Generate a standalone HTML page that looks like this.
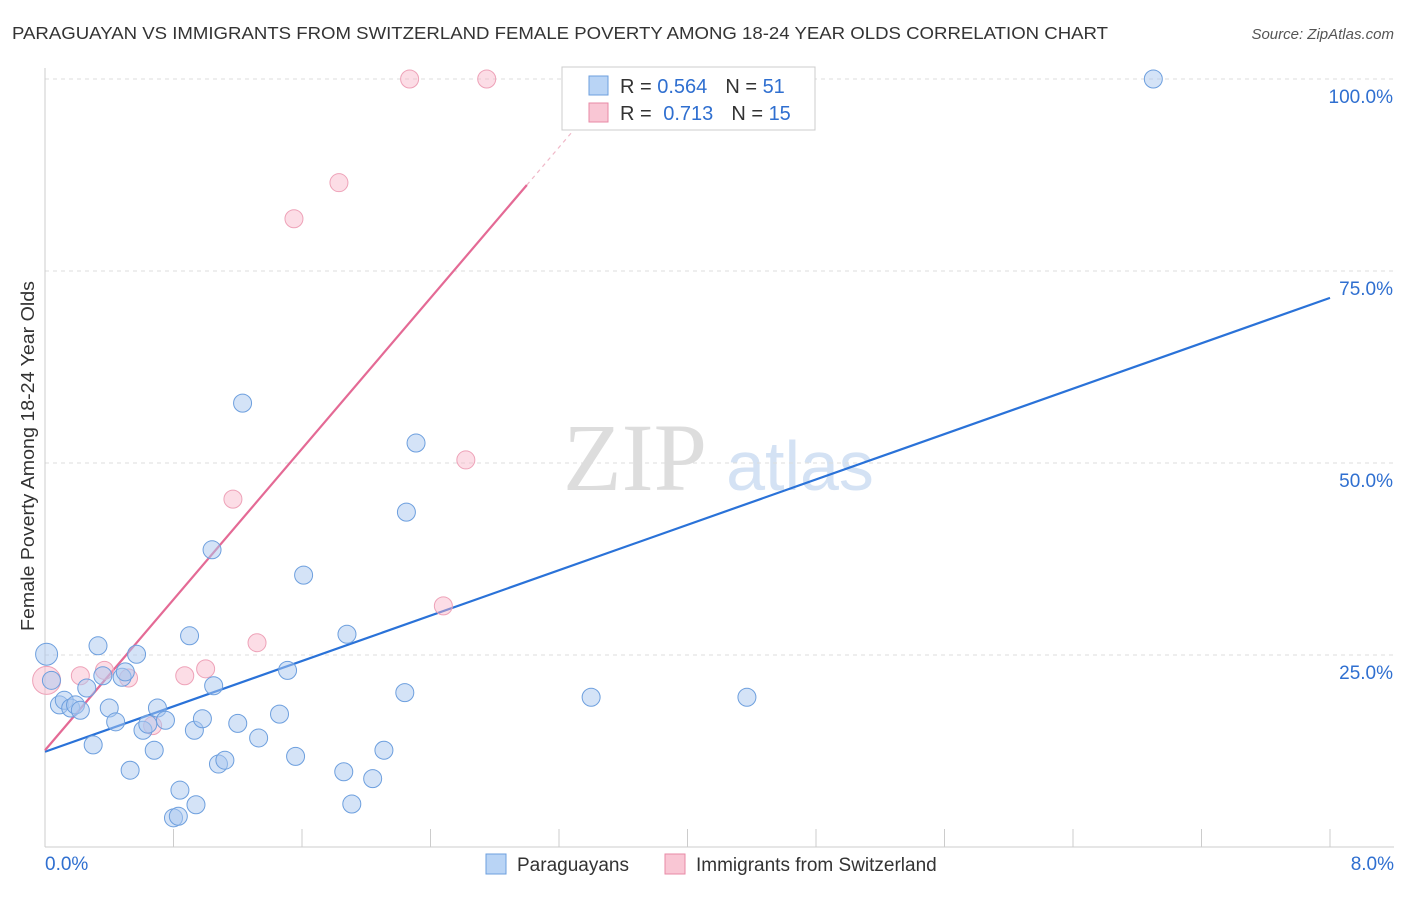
<!DOCTYPE html>
<html><head><meta charset="utf-8"><style>
body{margin:0;background:#fff;font-family:"Liberation Sans",sans-serif}
</style></head><body>
<svg width="1406" height="892" viewBox="0 0 1406 892" xmlns="http://www.w3.org/2000/svg">
<text x="12" y="39" font-size="17.5" fill="#333" textLength="1096" lengthAdjust="spacingAndGlyphs">PARAGUAYAN VS IMMIGRANTS FROM SWITZERLAND FEMALE POVERTY AMONG 18-24 YEAR OLDS CORRELATION CHART</text>
<text x="1394" y="39" font-size="15" fill="#555" font-style="italic" text-anchor="end">Source: ZipAtlas.com</text>
<g>
<text x="635" y="490" font-size="96" fill="#ddd" font-family="Liberation Serif" text-anchor="middle">ZIP</text>
<text x="800" y="490" font-size="70" fill="#d4e2f4" text-anchor="middle">atlas</text>
</g>
<g id="grid"></g>
<g id="axes"></g>
<g id="lines"></g>
<g id="points"></g>
<text transform="translate(34,456) rotate(-90)" font-size="18.5" fill="#333" text-anchor="middle" textLength="350" lengthAdjust="spacingAndGlyphs">Female Poverty Among 18-24 Year Olds</text>
<g>
<rect x="562" y="67" width="253" height="63" fill="#fff" stroke="#ccc"/>
<rect x="589" y="76" width="19" height="19" fill="#b9d4f5" stroke="#6d9fde"/>
<rect x="589" y="103" width="19" height="19" fill="#f9c6d4" stroke="#e88aa6"/>
<text x="620" y="93" font-size="20" fill="#333">R = <tspan fill="#2f6fd0">0.564</tspan><tspan dx="18">N = </tspan><tspan fill="#2f6fd0">51</tspan></text>
<text x="620" y="120" font-size="20" fill="#333">R = <tspan dx="6" fill="#2f6fd0">0.713</tspan><tspan dx="18">N = </tspan><tspan fill="#2f6fd0">15</tspan></text>
</g>
<g>
<rect x="486" y="854" width="20" height="20" fill="#b9d4f5" stroke="#6d9fde"/>
<text x="517" y="871" font-size="19" fill="#333">Paraguayans</text>
<rect x="665" y="854" width="20" height="20" fill="#f9c6d4" stroke="#e88aa6"/>
<text x="696" y="871" font-size="19" fill="#333">Immigrants from Switzerland</text>
</g>
</svg>
<script>
const blueX=[0.01,0.04,0.09,0.12,0.16,0.19,0.22,0.26,0.30,0.33,0.36,0.40,0.44,0.48,0.50,0.53,0.57,0.61,0.64,0.68,0.70,0.75,0.80,0.83,0.84,0.90,0.93,0.94,0.98,1.04,1.05,1.08,1.12,1.20,1.23,1.33,1.46,1.51,1.56,1.61,1.86,1.88,1.91,2.04,2.11,2.24,2.25,2.31,3.40,4.37,6.90];
const blueY=[25.1,21.7,18.5,19.1,18.1,18.5,17.8,20.7,13.3,26.2,22.3,18.1,16.3,22.1,22.8,10.0,25.1,15.2,16.0,12.6,18.1,16.5,3.8,4.0,7.4,27.5,15.2,5.5,16.7,38.7,21.0,10.8,11.3,16.1,57.8,14.2,17.3,23.0,11.8,35.4,9.8,27.7,5.6,8.9,12.6,20.1,43.6,52.6,19.5,19.5,100];
const pinkX=[0.01,0.22,0.37,0.52,0.67,0.87,1.00,1.17,1.32,1.55,1.83,2.27,2.48,2.62,2.75];
const pinkY=[21.7,22.3,23.0,22.0,15.8,22.3,23.2,45.3,26.6,81.8,86.5,100,31.4,50.4,100];
const blueTrend=[12.4,71.5];
const pinkTrend=[12.6,86.2,3.0];
const yTicks=[25,50,75,100];
const yTickLabels=["25.0%","50.0%","75.0%","100.0%"];
const xTicks=[0,0.8,1.6,2.4,3.2,4.0,4.8,5.6,6.4,7.2,8.0];
const NS="http://www.w3.org/2000/svg";
const sx=v=>45+v*160.625, sy=v=>847-v*7.68;
function mk(t,a,p){const e=document.createElementNS(NS,t);for(const k in a)e.setAttribute(k,a[k]);p.appendChild(e);return e;}
const grid=document.getElementById('grid'),axes=document.getElementById('axes'),lines=document.getElementById('lines'),pts=document.getElementById('points');
yTicks.forEach((v,i)=>{
 const l=mk('line',{x1:45,x2:1394,y1:sy(v),y2:sy(v),stroke:'#ddd','stroke-dasharray':'4,4'},grid);
 
 
 const t=mk('text',{x:1393,y:sy(v)+24,'font-size':19,fill:'#2f6fd0','text-anchor':'end'},axes);
 t.textContent=yTickLabels[i];
 
 
});
const ax=mk('line',{x1:45,x2:45,y1:68,y2:847,stroke:'#ccc'},axes);


const bx=mk('line',{x1:45,x2:1394,y1:847,y2:847,stroke:'#ccc'},axes);


xTicks.forEach(v=>{const t=mk('line',{x1:sx(v),x2:sx(v),y1:829,y2:847,stroke:'#ccc'},axes);
 
 });
[[0,'0.0%','start',45],[8,'8.0%','end',1394]].forEach(d=>{const t=mk('text',{x:d[3],y:870,'font-size':19,fill:'#2f6fd0','text-anchor':d[2]},axes);t.textContent=d[1];
 
 });
const bl=mk('line',{x1:sx(0),y1:sy(blueTrend[0]),x2:sx(8),y2:sy(blueTrend[1]),stroke:'#2a72d8','stroke-width':2.2},lines);


const pl=mk('line',{x1:sx(0),y1:sy(pinkTrend[0]),x2:sx(pinkTrend[2]),y2:sy(pinkTrend[1]),stroke:'#e46a95','stroke-width':2.2},lines);


const slope=(pinkTrend[1]-pinkTrend[0])/pinkTrend[2];
const pd=mk('line',{x1:sx(pinkTrend[2]),y1:sy(pinkTrend[1]),x2:sx(3.45),y2:sy(pinkTrend[0]+slope*3.45),stroke:'#f0b8c8','stroke-width':1.2,'stroke-dasharray':'4,4'},lines);


pinkX.forEach((x,i)=>{const c=mk('circle',{cx:sx(x),cy:sy(pinkY[i]),r:i==0?14:9,fill:'rgba(248,180,200,0.45)',stroke:'#eea2b8','stroke-width':1},pts);
 
 });
blueX.forEach((x,i)=>{const c=mk('circle',{cx:sx(x),cy:sy(blueY[i]),r:i==0?11:9,fill:'rgba(170,200,240,0.5)',stroke:'#6d9fde','stroke-width':1},pts);
 
 });
</script>
</body></html>
